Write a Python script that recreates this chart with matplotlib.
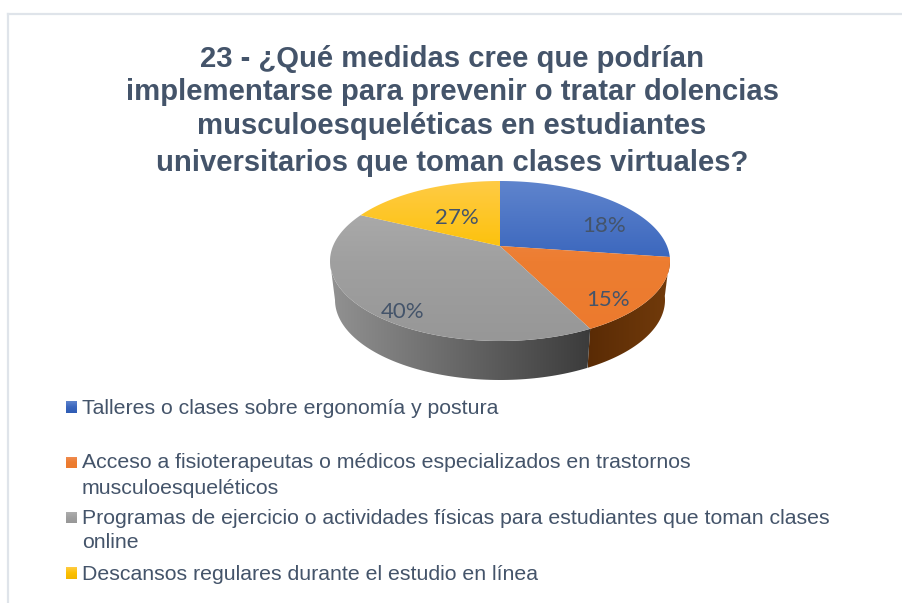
import numpy as np
import matplotlib
matplotlib.use('Agg')
import matplotlib.pyplot as plt
from matplotlib.colors import LinearSegmentedColormap
from matplotlib.patches import Polygon

title_lines = ['23 - ¿Qué medidas cree que podrían',
               'implementarse para prevenir o tratar dolencias',
               'musculoesqueléticas en estudiantes',
               'universitarios que toman clases virtuales?']
legend_lines = [['Talleres o clases sobre ergonomía y postura'],
                ['Acceso a fisioterapeutas o médicos especializados en trastornos', 'musculoesqueléticos'],
                ['Programas de ejercicio o actividades físicas para estudiantes que toman clases', 'online'],
                ['Descansos regulares durante el estudio en línea']]
# printed labels
label_values = [18, 15, 40, 27]
# share of the ellipse each slice really takes up in the picture (not the same as the labels)
slice_shares = [24.2, 16.9, 43.6, 15.3]

top_colors = [('#5f84cd', '#3a66bd', '#2f5cb4'), ('#f08f55', '#ed7d31', '#ec7a2d'),
              ('#b0b0b0', '#a0a0a0', '#979797'), ('#ffcb45', '#fcc000', '#f2b600')]
side_colors = [('#2a4a80', '#2a4a80'), ('#5a2b05', '#723b0b'), ('#929292', '#3b3b3b'), ('#a07a00', '#a07a00')]
text_color = '#44546a'

# layout in pixels
cx, cy, rx, ry = 500, 261, 170, 80
apex_x, apex_y = 500, 246
low_cy, low_rx, low_ry = 300, 165, 80
label_pos = [(604, 225.5), (608, 300.5), (403, 311.5), (457, 217.5)]
title_y = [59, 92, 126, 163]
legend_y = [[408], [463, 488], [519, 543], [574]]
box_y = [407, 462.5, 517.5, 573]

plt.rcParams['font.family'] = ['Liberation Sans', 'DejaVu Sans']

fig = plt.figure(figsize=(9.02, 6.03), dpi=100)
ax = fig.add_axes([0, 0, 1, 1])
ax.set_xlim(0, 902)
ax.set_ylim(603, 0)
ax.axis('off')


def grad(x0, x1, y0, y1, colors, poly, horizontal=False):
    cmap = LinearSegmentedColormap.from_list('g', colors)
    g = np.linspace(0, 1, 256)
    g = g.reshape(1, -1) if horizontal else g.reshape(-1, 1)
    im = ax.imshow(g, cmap=cmap, extent=(x0, x1, y1, y0), aspect='auto', vmin=0, vmax=1, zorder=2)
    p = Polygon(poly, closed=True, transform=ax.transData, fc='none', ec='none')
    ax.add_patch(p)
    im.set_clip_path(p)


def rim(t, x0, y0, a, b):
    t = np.radians(t)
    return np.column_stack([x0 + a * np.sin(t), y0 - b * np.cos(t)])


# frame lines
ax.plot([8, 8], [14, 603], color='#dfe4ea', lw=1.6, zorder=1)
ax.plot([8, 902], [14, 14], color='#dfe4ea', lw=1.6, zorder=1)

ends = np.cumsum(slice_shares) * 3.6
starts = np.concatenate([[0], ends[:-1]])

for s, e, c_top, c_side in zip(starts, ends, top_colors, side_colors):
    # side wall, only the front half shows
    a, b = max(s, 87), min(e, 270)
    if b > a:
        t = np.linspace(a, b, 80)
        upper = rim(t, cx, cy, rx, ry)
        lower = rim(t, cx, low_cy, low_rx, low_ry)
        wall = np.vstack([upper, lower[::-1]])
        grad(wall[:, 0].min(), wall[:, 0].max(), 170, 400, c_side, wall, horizontal=True)
    # top face
    t = np.linspace(s, e, 120)
    face = np.vstack([[[apex_x, apex_y]], rim(t, cx, cy, rx, ry)])
    grad(cx - rx, cx + rx, cy - ry, cy + ry, c_top, face)

ax.set_xlim(0, 902)
ax.set_ylim(603, 0)

for v, (x, y) in zip(label_values, label_pos):
    ax.text(x, y, str(v) + '%', ha='center', va='center', fontsize=16, color=text_color,
            family=['Lato', 'DejaVu Sans'], zorder=5)

for line, y in zip(title_lines, title_y):
    ax.text(452, y, line, ha='center', va='center', fontsize=21.1, fontweight='bold', color=text_color)

for lines, ys, yb, c in zip(legend_lines, legend_y, box_y, top_colors):
    box = [(66, yb - 6), (77, yb - 6), (77, yb + 6), (66, yb + 6)]
    grad(66, 77, yb - 6, yb + 6, c, box)
    for line, y in zip(lines, ys):
        ax.text(82, y, line, ha='left', va='center', fontsize=15.33, color=text_color)

ax.set_xlim(0, 902)
ax.set_ylim(603, 0)

fig.savefig('out.png', dpi=100)
